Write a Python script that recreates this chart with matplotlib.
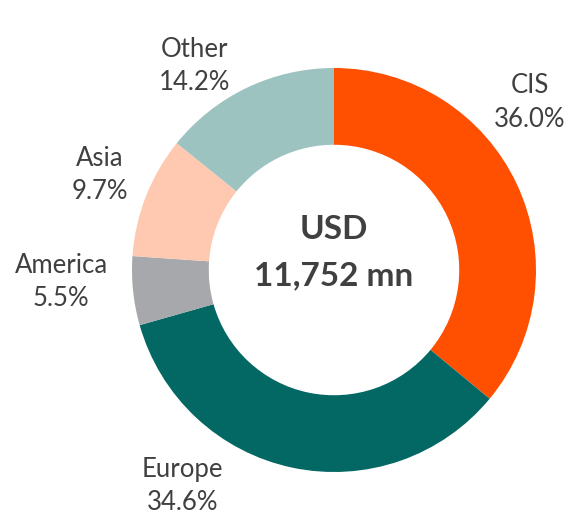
import matplotlib
matplotlib.use("Agg")
import matplotlib.pyplot as plt

categories = ["CIS", "Europe", "America", "Asia", "Other"]
shares = [36.0, 34.6, 5.5, 9.7, 14.2]
colors = ["#FF4F00", "#036864", "#A7A8AC", "#FFC8B0", "#9DC3C1"]
center_lines = ["USD", "11,752 mn"]

plt.rcParams['font.family'] = ['Lato', 'DejaVu Sans']
fig = plt.figure(figsize=(5.72, 5.17), dpi=100)
r_px = 202
cx, cy = 334, 270
ax = fig.add_axes([(cx - r_px) / 572, 1 - (cy + r_px) / 517, 2 * r_px / 572, 2 * r_px / 517])
ax.pie(shares, colors=colors, startangle=90, counterclock=False, radius=1.0,
       wedgeprops=dict(width=0.38, edgecolor='none'))
ax.set_xlim(-1, 1)
ax.set_ylim(-1, 1)
ax.set_aspect('equal')
ax.axis('off')

label_pos = {"CIS": (0.97, 0.83), "Europe": (-0.75, -1.07), "America": (-1.35, -0.06),
             "Asia": (-1.16, 0.47), "Other": (-0.69, 1.01)}
tc = "#404040"
for cat, val in zip(categories, shares):
    x, y = label_pos[cat]
    ax.text(x, y, f"{cat}\n{val:.1f}%", ha='center', va='center', fontsize=18.5,
            color=tc, linespacing=1.42, clip_on=False)

ax.text(0, 0.2, center_lines[0], ha='center', va='center', fontsize=24, fontweight='bold', color=tc)
ax.text(0, -0.03, center_lines[1], ha='center', va='center', fontsize=24, fontweight='bold', color=tc)

fig.savefig("out.png", dpi=100)
